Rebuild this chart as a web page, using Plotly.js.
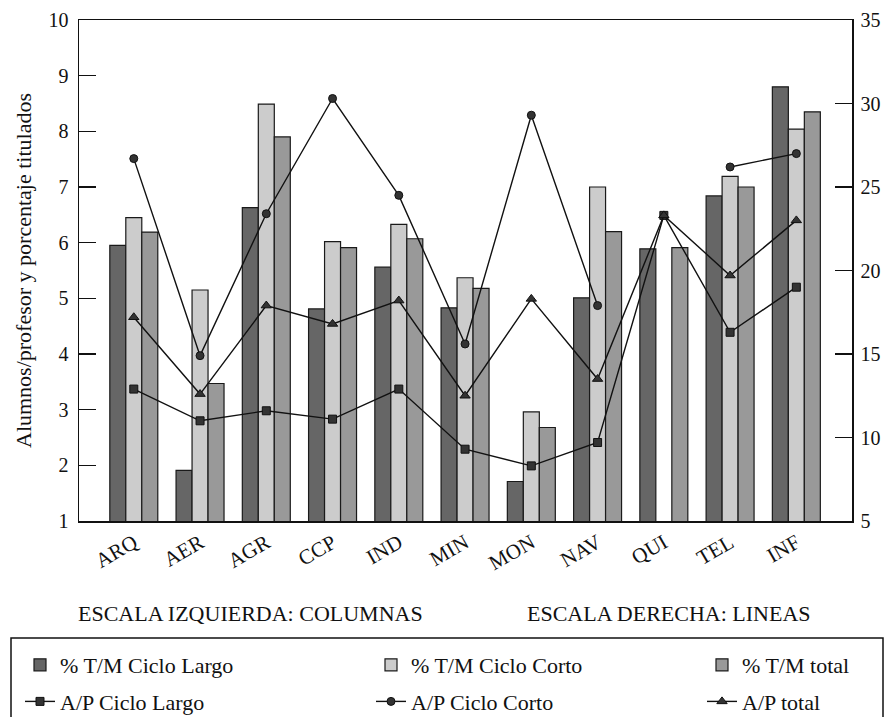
<!DOCTYPE html>
<html>
<head>
<meta charset="utf-8">
<script src="https://cdn.plot.ly/plotly-3.0.1.min.js"></script>
<style>html,body{margin:0;padding:0;background:#fff;}#chart{width:884px;height:717px;}</style>
</head>
<body>
<div id="chart"></div>
<script>
// ---- data ----
const categories = ["ARQ","AER","AGR","CCP","IND","MIN","MON","NAV","QUI","TEL","INF"];
const tmCicloLargo = [5.95, 1.91, 6.63, 4.81, 5.56, 4.83, 1.71, 5.01, 5.89, 6.84, 8.80];
const tmCicloCorto = [6.45, 5.15, 8.49, 6.02, 6.33, 5.37, 2.96, 7.00, null, 7.19, 8.04];
const tmTotal      = [6.19, 3.47, 7.90, 5.91, 6.07, 5.18, 2.68, 6.20, 5.91, 7.00, 8.35];
const apCicloLargo = [12.9, 11.0, 11.6, 11.1, 12.9, 9.3, 8.3, 9.7, 23.3, 16.3, 19.0];
const apCicloCorto = [26.7, 14.9, 23.4, 30.3, 24.5, 15.6, 29.3, 17.9, null, 26.2, 27.0];
const apTotal      = [17.2, 12.6, 17.9, 16.8, 18.2, 12.5, 18.3, 13.5, 23.3, 19.7, 23.0];
const seriesNames = ["% T/M Ciclo Largo","% T/M Ciclo Corto","% T/M total","A/P Ciclo Largo","A/P Ciclo Corto","A/P total"];

// ---- geometry helpers (pixel -> paper) ----
const W = 884, H = 717, L = 79, R = 32, T = 20, B = 196;
const PW = W - L - R, PH = H - T - B;
const px = x => (x - L) / PW;
const py = y => (H - B - y) / PH;

const FONT = "'Liberation Serif', 'Times New Roman', serif";
const outline = {color: "#1a1a1a", width: 1.2};

function bar(name, y, color, lg) {
  return {type: "bar", name, x: categories, y, yaxis: "y",
    marker: {color, line: outline}, legend: lg, legendgroup: name};
}
function line(name, y, symbol, size, lg) {
  return {type: "scatter", mode: "lines+markers", name, x: categories, y, yaxis: "y2",
    connectgaps: false,
    line: {color: "#111", width: 1.4},
    marker: {symbol, size, color: "#333", line: {color: "#111", width: 1}},
    legend: lg, legendgroup: name};
}

const data = [
  bar(seriesNames[0], tmCicloLargo, "#666666", "legend"),
  bar(seriesNames[1], tmCicloCorto, "#cccccc", "legend2"),
  bar(seriesNames[2], tmTotal, "#999999", "legend3"),
  line(seriesNames[3], apCicloLargo, "square", 8, "legend"),
  line(seriesNames[4], apCicloCorto, "circle", 8, "legend2"),
  line(seriesNames[5], apTotal, "triangle-up", 9, "legend3")
];

const legBase = {orientation: "v", xanchor: "left", yanchor: "top", bgcolor: "rgba(0,0,0,0)",
  font: {family: FONT, size: 22, color: "#111"}, tracegroupgap: 5, traceorder: "grouped"};

const layout = {
  width: W, height: H,
  margin: {l: L, r: R, t: T, b: B, autoexpand: false},
  paper_bgcolor: "#fff", plot_bgcolor: "#fff",
  font: {family: FONT, color: "#111"},
  barmode: "group", bargap: 0.276, bargroupgap: 0,
  showlegend: true,
  xaxis: {
    type: "category", range: [-0.827, 10.84],
    showline: true, mirror: true, linecolor: "#111", linewidth: 1.5,
    ticks: "", tickangle: -30, tickfont: {family: FONT, size: 21, color: "#111"},
    showgrid: false, zeroline: false, fixedrange: true
  },
  yaxis: {
    range: [1, 10], dtick: 1, tick0: 1,
    showline: true, linecolor: "#111", linewidth: 1.5,
    ticks: "inside", ticklen: 17, tickwidth: 1.2, tickcolor: "#111",
    ticklabelstandoff: 5,
    tickfont: {family: FONT, size: 20, color: "#111"},
    showgrid: false, zeroline: false,
    title: {text: "Alumnos/profesor y porcentaje titulados", font: {family: FONT, size: 22, color: "#111"}, standoff: 11}
  },
  yaxis2: {
    overlaying: "y", side: "right", range: [5, 35], dtick: 5, tick0: 5,
    showline: true, linecolor: "#111", linewidth: 1.5,
    ticks: "inside", ticklen: 17, tickwidth: 1.2, tickcolor: "#111",
    ticklabelstandoff: 3,
    tickfont: {family: FONT, size: 20, color: "#111"},
    showgrid: false, zeroline: false
  },
  legend:  Object.assign({}, legBase, {x: px(20),  y: py(644)}),
  legend2: Object.assign({}, legBase, {x: px(371), y: py(644)}),
  legend3: Object.assign({}, legBase, {x: px(702), y: py(644)}),
  annotations: [
    {text: "ESCALA IZQUIERDA: COLUMNAS", xref: "paper", yref: "paper", x: px(250), y: py(613),
     xanchor: "center", yanchor: "middle", showarrow: false, font: {family: FONT, size: 22, color: "#111"}},
    {text: "ESCALA DERECHA: LINEAS", xref: "paper", yref: "paper", x: px(669), y: py(613),
     xanchor: "center", yanchor: "middle", showarrow: false, font: {family: FONT, size: 22, color: "#111"}}
  ],
  shapes: [
    {type: "rect", xref: "paper", yref: "paper", x0: px(11), x1: px(883), y0: py(638), y1: py(722),
     line: {color: "#111", width: 1.5}, fillcolor: "rgba(0,0,0,0)", layer: "above"}
  ]
};

Plotly.newPlot("chart", data, layout, {displayModeBar: false, staticPlot: true});
</script>
</body>
</html>
